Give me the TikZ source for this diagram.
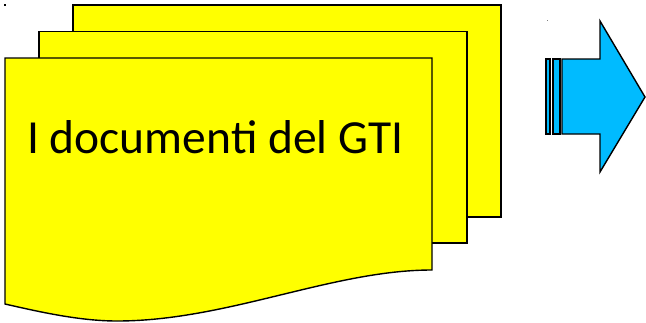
\documentclass[tikz,border=0pt]{standalone}
\usepackage{fontspec}
\setmainfont{Carlito}
\usetikzlibrary{calc}

\definecolor{docyellow}{RGB}{255,255,0}
\definecolor{arrowblue}{RGB}{0,187,255}

\begin{document}
\begin{tikzpicture}[x=1pt, y=-1pt, line join=miter,
		docpage/.style={draw=black, line width=1.4pt, fill=docyellow},
		arrowpart/.style={draw=black, line width=1.4pt, fill=arrowblue},
		doctext/.style={font=\fontsize{47.5}{56}\selectfont, inner sep=0pt}]
		\useasboundingbox (0,0) rectangle (646,322);
		
		\def\dx{34}   % x offset between stacked pages
		\def\dy{26.5} % y offset between stacked pages
		\def\pw{427}  % page width
		\def\ph{212}  % page height (right edge)
		
		\coordinate (P0) at (5,58);  % front page top left
		
		% back pages
		\draw[docpage] ($ (P0) + (2*\dx,-2*\dy) $) rectangle ++(\pw+1,\ph);
		\draw[docpage] ($ (P0) + (\dx,-\dy) $) rectangle ++(\pw+1,\ph-0.5);
		
		% front page with wavy bottom
		\draw[docpage] (P0) -- ++(\pw,0) coordinate (PR) -- ($ (PR) + (0,\ph) $) coordinate (PB)
			.. controls ($ (PB) + (-100,0) $) and ($ (PB) + (-205,51) $) .. (117,321)
			.. controls (80,321) and (40,312) .. (5,304) -- cycle;
		
		\node[doctext, anchor=base west] (title) at (27,153) {I documenti del GTI};
		
		% striped arrow
		\coordinate (A0) at (562,59);
		\draw[arrowpart] (546,59) rectangle (550,134);
		\draw[arrowpart] (553,59) rectangle (560,134);
		\draw[arrowpart] (A0) -- (600,59) -- (600,21) -- (645,97) -- (600,172)
			-- (600,134) -- (562,134) -- cycle;
		
		% small marks
		\fill[black] (4,4) rectangle (6,6);
		\fill[gray] (546.5,19.5) rectangle (547.5,20.5);
	\end{tikzpicture}
\end{document}
